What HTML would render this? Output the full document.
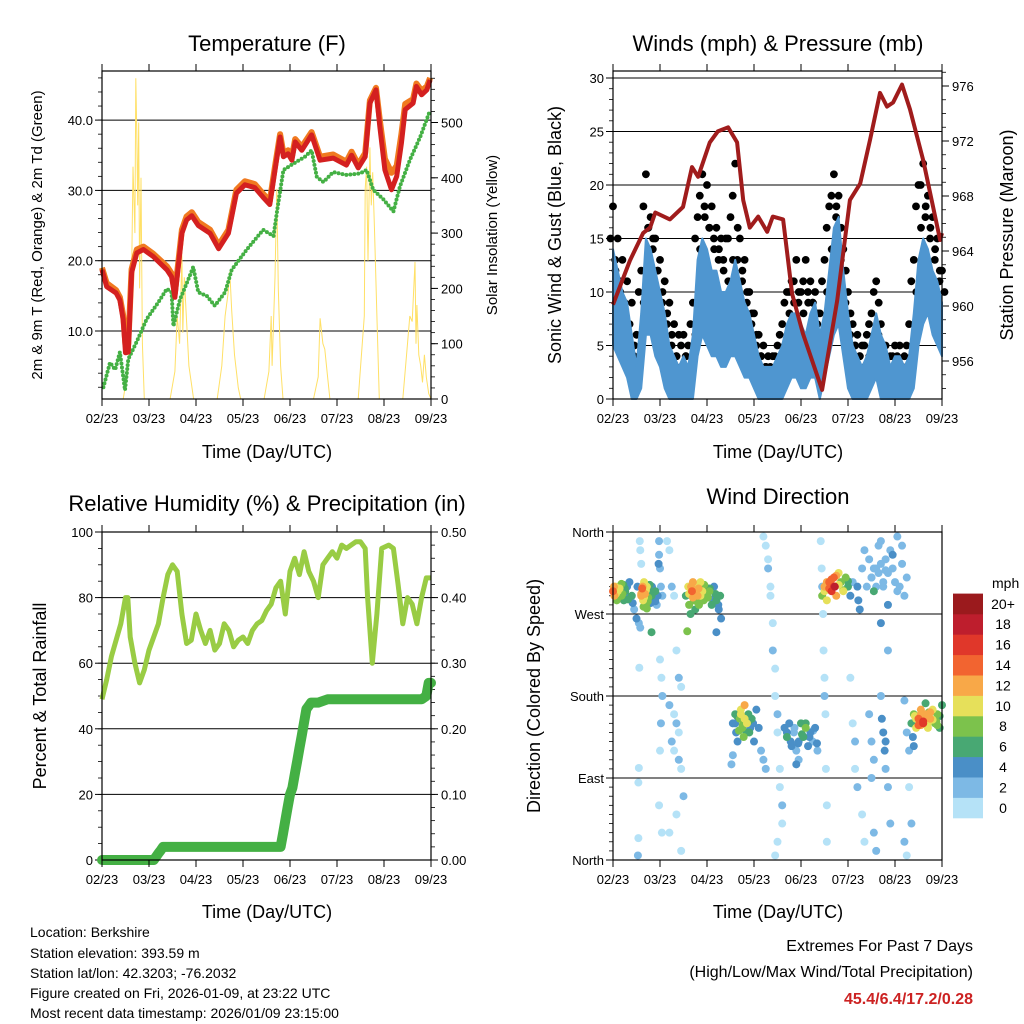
<!DOCTYPE html>
<html><head><meta charset="utf-8"><title>Station Meteogram</title>
<style>
html,body{margin:0;padding:0;background:#fff;}
svg{display:block;font-family:"Liberation Sans",Arial,sans-serif;}
</style></head>
<body>
<svg id="fig" width="1024" height="1024" viewBox="0 0 1024 1024" xmlns="http://www.w3.org/2000/svg">
<rect x="0" y="0" width="1024" height="1024" fill="#fff"/>
<g id="p1">
 <text x="267" y="51" font-size="22" text-anchor="middle">Temperature (F)</text>
 <text transform="translate(42,235) rotate(-90)" font-size="15" text-anchor="middle">2m &amp; 9m T (Red, Orange) &amp; 2m Td (Green)</text>
 <text transform="translate(497,235) rotate(-90)" font-size="15" text-anchor="middle">Solar Insolation (Yellow)</text>
 <text x="267" y="458" font-size="18" text-anchor="middle">Time (Day/UTC)</text>
</g>
<g id="p2">
 <text x="778" y="51" font-size="22" text-anchor="middle">Winds (mph) &amp; Pressure (mb)</text>
 <text transform="translate(561,235) rotate(-90)" font-size="18" text-anchor="middle">Sonic Wind &amp; Gust (Blue, Black)</text>
 <text transform="translate(1013,235) rotate(-90)" font-size="18" text-anchor="middle">Station Pressure (Maroon)</text>
 <text x="778" y="458" font-size="18" text-anchor="middle">Time (Day/UTC)</text>
</g>
<g id="p3">
 <text x="267" y="511" font-size="22" text-anchor="middle">Relative Humidity (%) &amp; Precipitation (in)</text>
 <text transform="translate(46,696) rotate(-90)" font-size="18" text-anchor="middle">Percent &amp; Total Rainfall</text>
 <text x="267" y="918" font-size="18" text-anchor="middle">Time (Day/UTC)</text>
</g>
<g id="p4">
 <text x="778" y="504" font-size="22" text-anchor="middle">Wind Direction</text>
 <text transform="translate(540,696) rotate(-90)" font-size="18" text-anchor="middle">Direction (Colored By Speed)</text>
 <text x="778" y="918" font-size="18" text-anchor="middle">Time (Day/UTC)</text>
 <text x="992" y="588" font-size="14" text-anchor="start">mph</text>
</g>
<g font-size="14">
 <text x="30" y="937">Location: Berkshire</text>
 <text x="30" y="958">Station elevation: 393.59 m</text>
 <text x="30" y="978">Station lat/lon: 42.3203; -76.2032</text>
 <text x="30" y="998">Figure created on Fri, 2026-01-09, at 23:22 UTC</text>
 <text x="30" y="1018">Most recent data timestamp: 2026/01/09 23:15:00</text>
</g>
<g font-size="16" text-anchor="end">
 <text x="973" y="951">Extremes For Past 7 Days</text>
 <text x="973" y="977">(High/Low/Max Wind/Total Precipitation)</text>
 <text x="973" y="1004" font-weight="bold" fill="#cc2222">45.4/6.4/17.2/0.28</text>
</g>
</svg>
<script>
// ---------- data ----------
const xTickLabels = ["02/23","03/23","04/23","05/23","06/23","07/23","08/23","09/23"];

const tempDays = [0,0.1,0.3,0.38,0.45,0.5,0.56,0.63,0.74,0.88,1.09,1.38,1.48,1.55,1.7,1.8,1.91,2.05,2.3,2.48,2.69,2.86,3.04,3.25,3.43,3.57,3.68,3.79,3.86,3.96,4.04,4.11,4.25,4.46,4.64,4.92,5.06,5.2,5.31,5.45,5.6,5.7,5.83,5.91,6.02,6.16,6.27,6.37,6.45,6.62,6.69,6.8,6.91,6.98];
const tempRed = [18.7,16.3,15.4,14.4,11.6,6.9,7.0,18.3,21.1,21.6,20.6,18.7,17.7,14.8,23.9,25.8,26.4,25.0,23.9,21.7,23.9,29.6,30.8,30.4,29.0,28.0,32.9,37.6,34.8,35.2,34.3,36.9,35.7,37.9,34.3,34.6,34.1,33.6,35.0,33.2,34.8,42.4,44.3,39.1,32.9,30.1,32.0,36.7,41.5,42.4,44.8,43.6,44.3,45.7];
const tempOrange = [19.0,16.8,15.8,14.8,12.2,8.0,8.2,18.8,21.6,22.0,21.0,19.2,18.2,15.4,24.4,26.3,26.9,25.5,24.4,22.2,24.4,30.1,31.3,30.9,29.5,28.5,33.4,38.0,35.3,35.7,34.8,37.3,36.2,38.3,34.8,35.1,34.6,34.1,35.5,33.7,35.3,42.8,44.6,40.0,34.5,32.5,33.5,38.0,42.3,43.0,45.2,44.2,44.8,46.0];
const dewDays = [0.03,0.17,0.28,0.38,0.49,0.56,0.74,0.95,1.2,1.38,1.48,1.52,1.66,1.84,1.94,2.05,2.23,2.4,2.62,2.76,3.08,3.43,3.65,3.72,3.86,4.07,4.32,4.46,4.57,4.71,4.92,5.2,5.49,5.63,5.77,5.99,6.2,6.34,6.55,6.77,6.98];
const dewGreen = [2.0,5.5,4.5,7.0,1.6,6.0,8.5,11.7,14.1,16.0,15.5,10.7,14.5,17.4,19.1,15.5,15.0,13.6,15.5,18.7,21.6,24.4,23.5,26.8,32.9,33.8,34.8,35.7,31.9,31.2,32.6,32.2,32.4,32.9,30.1,28.7,27.0,30.6,34.3,37.6,41.4];
const solarDays = [0,0.45,0.55,0.62,0.66,0.7,0.72,0.74,0.76,0.78,0.8,0.83,0.86,0.9,1.45,1.55,1.6,1.65,1.7,1.72,1.75,1.8,1.85,1.95,2.45,2.55,2.62,2.68,2.72,2.76,2.82,2.9,2.95,3.45,3.55,3.6,3.62,3.68,3.72,3.75,3.8,3.85,4.5,4.6,4.64,4.7,4.74,4.8,4.85,5.45,5.58,5.6,5.63,5.66,5.7,5.73,5.76,5.8,5.85,5.9,6.4,6.5,6.55,6.6,6.66,6.68,6.7,6.74,6.78,6.82,6.86,6.9,6.95,7.0];
const solarVals = [0,0,50,150,420,300,580,480,350,500,200,400,100,0,0,50,150,100,260,120,220,140,60,0,0,60,150,190,230,160,80,20,0,0,50,150,60,220,380,200,60,0,0,40,146,100,90,40,0,0,150,380,420,250,455,350,410,300,150,0,0,100,150,140,248,100,170,80,60,30,80,40,10,0];

const windDays = [0,0.1,0.2,0.3,0.4,0.5,0.6,0.7,0.8,0.9,1.0,1.1,1.2,1.3,1.4,1.5,1.6,1.7,1.8,1.9,2.0,2.1,2.2,2.3,2.4,2.5,2.6,2.7,2.8,2.9,3.0,3.1,3.2,3.3,3.4,3.5,3.6,3.7,3.8,3.9,4.0,4.1,4.2,4.3,4.4,4.5,4.6,4.7,4.8,4.9,5.0,5.1,5.2,5.3,5.4,5.5,5.6,5.7,5.8,5.9,6.0,6.1,6.2,6.3,6.4,6.5,6.6,6.7,6.8,6.9,7.0];
const windHi = [14,12,10,9,6,3,8,15,14,12,10,8,5,4,3,4,3,6,13,15,14,12,12,10,10,11,13,11,9,8,6,4,3,3,3,4,5,7,8,8,7,6,8,9,6,8,12,16,17,12,8,5,4,3,4,6,8,6,5,3,4,4,3,4,8,13,15,14,12,11,9];
const windLo = [5,4,3,2,0,0,1,6,6,4,3,1,0,0,0,0,0,0,4,6,5,4,4,3,3,4,4,3,2,2,1,0,0,0,0,0,0,1,2,2,1,1,2,2,0,2,4,6,7,4,1,0,0,0,0,1,2,0,0,0,0,0,0,0,1,5,7,8,6,5,4];
const gustA = [18,15,13,11,9,6,12,21,17,15,13,11,9,7,6,6,5,9,17,21,20,18,16,15,15,17,22,15,13,10,8,6,5,4,4,5,7,10,11,13,10,13,11,10,8,13,18,21,19,14,10,7,6,5,6,8,11,7,5,4,5,5,4,7,13,20,22,19,17,15,12];
const gustB = [12,10,8,7,5,3,9,16,15,12,10,8,6,4,3,4,3,6,14,17,16,14,14,12,11,13,16,12,10,8,6,4,3,2,2,3,5,8,9,10,8,9,9,8,5,10,14,18,16,12,8,5,4,3,4,6,9,5,3,2,3,3,2,4,10,16,18,16,14,12,10];
const gustC = [15,13,11,9,7,4,10,18,16,14,12,9,7,5,4,5,4,7,15,19,18,16,15,13,13,15,19,13,11,9,7,5,4,3,3,4,6,9,10,11,9,11,10,9,7,11,16,19,17,13,9,6,5,4,5,7,10,6,4,3,4,4,3,5,11,18,20,17,15,13,11];
const presDays = [0,0.36,0.64,0.79,0.9,1.21,1.49,1.68,1.81,2.06,2.23,2.45,2.64,2.77,2.91,3.09,3.28,3.4,3.62,3.81,4.04,4.45,4.77,5.04,5.26,5.47,5.68,5.83,5.96,6.15,6.32,6.6,6.96,7.0];
const presVals = [960.1,963.3,965.3,965.7,966.8,966.3,967.2,970.1,969.4,971.9,972.7,973.0,971.9,967.7,965.7,966.5,965.4,966.5,966.3,960.9,958.0,953.9,960.4,967.7,968.9,972.1,975.5,974.5,974.8,976.1,974.3,970.6,964.8,965.3];

const rhDays = [0,0.1,0.2,0.3,0.4,0.5,0.55,0.6,0.7,0.8,0.9,1.0,1.1,1.2,1.3,1.4,1.5,1.6,1.7,1.8,1.9,2.0,2.1,2.2,2.3,2.4,2.5,2.6,2.7,2.8,2.9,3.0,3.1,3.2,3.3,3.4,3.5,3.6,3.7,3.8,3.9,4.0,4.1,4.2,4.3,4.4,4.5,4.6,4.7,4.8,4.9,5.0,5.1,5.2,5.3,5.4,5.5,5.6,5.65,5.75,5.85,5.95,6.1,6.2,6.3,6.4,6.5,6.6,6.7,6.8,6.9,7.0];
const rhVals = [49,55,62,67,72,80,80,68,60,54,58,64,68,72,80,87,90,88,75,66,67,75,70,66,70,64,66,72,70,65,67,68,66,70,72,73,76,78,83,85,75,88,92,87,94,88,85,80,90,92,94,92,96,95,96,97,97,95,80,60,75,95,96,95,84,72,80,78,72,80,86,86];
const precipDays = [0,0.2,0.4,0.6,0.8,1.0,1.1,1.15,1.2,1.25,1.3,1.5,1.8,2.1,2.4,2.7,3.0,3.3,3.6,3.8,3.85,3.9,3.95,4.0,4.05,4.1,4.15,4.2,4.25,4.3,4.35,4.4,4.45,4.6,4.8,5.0,5.3,5.6,5.9,6.2,6.5,6.8,6.9,6.95,7.0];
const precipVals = [0,0,0,0,0,0,0,0.005,0.01,0.015,0.02,0.02,0.02,0.02,0.02,0.02,0.02,0.02,0.02,0.02,0.04,0.06,0.08,0.1,0.11,0.13,0.15,0.17,0.19,0.21,0.23,0.235,0.24,0.24,0.245,0.245,0.245,0.245,0.245,0.245,0.245,0.245,0.25,0.27,0.27];

const dirDays = [0.0,0.03,0.05,0.08,0.1,0.13,0.15,0.18,0.2,0.23,0.25,0.28,0.3,0.35,0.4,0.42,0.45,0.5,0.55,0.58,0.52,0.6,0.62,0.64,0.66,0.68,0.7,0.72,0.75,0.78,0.8,0.83,0.85,0.88,0.9,0.93,0.95,0.82,
0.57,0.58,0.6,0.56,0.55,0.54,0.54,0.53,0.98,0.98,1.0,0.97,1.02,1.05,1.0,1.03,1.05,1.02,1.0,0.98,1.04,
1.15,1.2,1.25,1.3,1.35,1.4,1.45,1.2,1.3,1.35,1.4,1.25,1.3,1.4,1.45,1.5,1.35,1.2,1.45,
1.55,1.6,1.62,1.65,1.68,1.7,1.72,1.75,1.78,1.8,1.83,1.86,1.9,1.93,1.96,2.0,2.05,2.1,2.15,2.2,2.25,2.3,2.28,1.58,2.2,
3.2,3.25,3.3,3.3,3.35,3.35,3.4,3.4,3.45,3.45,3.5,3.5,3.55,3.55,3.6,3.6,3.5,3.45,
2.55,2.6,2.62,2.65,2.7,2.72,2.75,2.78,2.8,2.85,2.88,2.9,2.95,3.0,3.05,3.1,3.15,3.2,3.25,2.55,2.52,
3.65,3.7,3.75,3.8,3.85,3.9,3.95,4.0,4.05,4.1,4.15,4.2,4.25,4.3,4.35,3.9,3.95,
4.42,4.44,4.45,4.47,4.48,4.5,4.5,4.52,4.53,4.55,4.55,
4.45,4.5,4.55,4.6,4.65,4.7,4.72,4.75,4.8,4.85,4.9,4.95,5.0,5.05,5.1,
5.2,5.22,5.25,5.3,5.35,5.4,5.45,5.5,5.55,5.6,5.65,5.7,5.75,5.8,5.85,5.9,5.95,6.0,6.05,6.1,6.15,6.2,6.25,5.7,5.85,5.95,6.05,6.15,
5.05,5.1,5.15,5.15,5.2,5.3,5.35,5.45,5.5,5.55,5.5,5.55,5.6,5.7,5.72,5.75,5.8,5.78,5.8,5.85,5.9,5.85,6.2,6.25,6.3,6.3,6.35,6.2,6.25,
6.35,6.4,6.45,6.5,6.55,6.6,6.65,6.7,6.75,6.8,6.85,6.9,6.95,7.0,6.38,6.4,6.65,6.42,6.55,6.72,6.88];
const dirDeg = [295,290,300,285,295,300,288,303,292,285,298,290,300,305,290,282,275,265,260,255,300,290,298,285,305,292,280,300,288,295,282,300,290,285,295,280,290,250,
350,340,325,211,101,85,24,5,350,335,320,325,300,290,220,200,180,150,120,60,30,
350,340,300,290,230,200,190,170,160,150,140,130,120,110,100,70,50,30,10,
290,300,280,270,295,305,285,275,300,290,280,305,295,285,300,290,295,280,300,285,275,265,290,251,250,
355,345,330,320,300,290,260,230,210,180,160,140,100,80,60,40,20,5,
150,160,140,130,155,165,145,135,170,150,160,140,155,130,165,145,120,110,100,115,105,
145,135,150,125,140,120,130,150,135,145,125,140,130,145,120,105,110,
350,320,300,270,230,200,180,160,100,60,20,
290,300,285,305,295,310,300,290,315,305,295,310,300,290,305,
300,285,275,320,340,300,330,310,295,320,345,350,300,330,315,340,320,305,355,300,325,290,310,260,280,335,295,345,
200,150,130,100,80,50,20,160,130,110,90,30,10,180,155,140,130,120,100,80,40,230,175,140,120,80,40,20,5,
150,160,145,155,165,150,160,145,155,165,150,160,145,170,135,125,172,158,148,162,152];
const dirSpeed = [14,12,10,8,10,8,6,8,9,7,6,5,4,4,6,5,3,4,3,3,4,12,14,10,11,12,9,10,8,6,5,4,5,4,6,3,4,6,
1,1,1,1,1,1,1,2,3,3,3,4,2,2,1,1,2,2,1,1,1,
1,1,2,1,1,2,1,3,1,2,1,2,1,3,1,2,1,1,1,
6,10,8,7,14,12,9,6,10,12,8,11,10,8,7,9,8,6,5,6,4,5,7,8,4,
1,1,1,2,1,1,1,2,1,1,2,1,1,1,2,1,1,1,
4,6,4,5,8,10,9,8,12,10,7,6,6,4,5,4,3,2,2,3,2,
4,6,4,5,3,3,4,7,6,8,4,5,3,4,3,4,3,
1,1,2,1,1,1,2,1,1,1,1,
8,12,10,14,16,15,18,12,10,8,10,8,6,4,3,
4,4,4,2,2,3,2,3,6,2,2,3,2,3,2,2,3,2,2,3,2,2,3,4,4,5,3,2,
1,1,2,1,2,1,1,2,3,2,2,2,2,3,4,4,5,4,3,3,2,3,2,3,3,1,2,3,1,
6,8,10,14,12,16,12,10,12,10,8,9,7,6,4,4,6,11,13,9,8];
const dirDays2 = [0.02,0.06,0.1,0.14,0.18,0.22,0.26,0.32,0.6,0.63,0.66,0.7,0.74,0.78,0.82,0.86,0.9,0.65,0.72,
1.62,1.66,1.7,1.74,1.78,1.82,1.86,1.9,1.94,1.98,2.02,2.06,2.12,2.18,2.24,
2.6,2.64,2.68,2.72,2.76,2.8,2.84,2.88,2.92,2.98,
3.7,3.78,3.86,3.94,4.02,4.1,4.18,4.26,4.34,
4.5,4.55,4.6,4.65,4.7,4.75,4.8,4.9,5.0,
5.5,5.55,5.6,5.65,5.7,5.75,5.8,
6.45,6.5,6.55,6.6,6.65,6.7,6.75,6.8,6.9,6.95];
const dirDeg2 = [300,292,288,298,290,302,295,286,292,300,288,296,284,302,290,296,284,278,276,
292,300,288,296,284,298,290,286,302,292,288,298,286,292,280,
150,158,142,160,148,155,140,152,145,150,
140,130,145,128,138,150,135,142,128,
295,305,298,308,300,312,302,296,306,
310,320,300,315,325,305,318,
155,148,160,152,158,150,162,154,148,158];
const dirSpeed2 = [12,10,9,11,8,7,6,6,13,12,11,10,9,7,6,5,4,8,9,
10,12,13,11,9,12,10,9,8,7,8,6,5,6,4,
5,7,9,11,8,10,6,7,5,4,
4,5,3,4,6,7,5,3,4,
10,13,15,14,17,13,11,9,7,
3,2,3,2,3,2,3,
11,14,13,16,12,11,13,10,8,7];

const cbLabels = ["0","2","4","6","8","10","12","14","16","18","20+"];
const cbColors = ["#b5e2f7","#7db9e5","#4a8fc7","#48a873","#7cc24c","#e6e05a","#f8a848","#f26430","#e0372a","#be1e2d","#9b1a1d"];

// ---------- helpers ----------
const NS = "http://www.w3.org/2000/svg";
const svg = document.getElementById("fig");
function el(tag, attrs, parent) {
  const e = document.createElementNS(NS, tag);
  for (const k in attrs) e.setAttribute(k, attrs[k]);
  (parent || svg).appendChild(e);
  return e;
}
function txt(parent, x, y, s, size, anchor) {
  const t = el("text", {x: x, y: y, "font-size": size, "text-anchor": anchor}, parent);
  t.textContent = s;
  return t;
}
const PW = 329, DAYPX = 47;
function xScale(x0) { return d => x0 + d * DAYPX; }
function linScale(v0, y0, v1, y1) { return v => y0 + (v - v0) * (y1 - y0) / (v1 - v0); }
function pts(days, vals, xs, ys) { return days.map((d, i) => xs(d).toFixed(1) + "," + ys(vals[i]).toFixed(1)).join(" "); }

function frame(g, x0, y0, y1) {
  for (let i = 0; i < xTickLabels.length; i++) {
    const x = x0 + i * DAYPX;
    const tb = el("line", {x1: x, y1: y1, x2: x, y2: y1 + 7, stroke: "#000", "stroke-width": 1}, g);
    
    
    const tt = el("line", {x1: x, y1: y0, x2: x, y2: y0 - 7, stroke: "#000", "stroke-width": 1}, g);
    
    
    const lb = txt(g, x, y1 + 24, xTickLabels[i], 13, "middle");
    
    
  }
}
function box(g, x0, y0, y1) {
  const r = el("rect", {x: x0, y: y0, width: PW, height: y1 - y0, fill: "none", stroke: "#000", "stroke-width": 1.2}, g);
  
  
}
function yAxis(g, ys, vals, labels, xEdge, side, gridX0, grid) {
  vals.forEach((v, i) => {
    const y = ys(v);
    if (grid) {
      const gl = el("line", {x1: gridX0, y1: y, x2: gridX0 + PW, y2: y, stroke: "#000", "stroke-width": 1}, g);
      
      
    }
    const dx = side === "left" ? -7 : 7;
    const tk = el("line", {x1: xEdge, y1: y, x2: xEdge + dx, y2: y, stroke: "#000", "stroke-width": 1}, g);
    
    
    const lb = txt(g, side === "left" ? xEdge - 9 : xEdge + 10, y + 5, labels[i], 13, side === "left" ? "end" : "start");
    
    
  });
}
function minor(g, ys, from, to, step, xEdge, side) {
  for (let v = from; v <= to + 1e-9; v += step) {
    const dx = side === "left" ? -4 : 4;
    const tk = el("line", {x1: xEdge, y1: ys(v), x2: xEdge + dx, y2: ys(v), stroke: "#000", "stroke-width": 0.8}, g);
    
    
  }
}

// ---------- Panel 1: temperature ----------
(function () {
  const g = document.getElementById("p1");
  const X0 = 102, Y0 = 71, Y1 = 399;
  const xs = xScale(X0);
  const ysT = linScale(0, 401.3, 10, 331);
  const ysS = linScale(0, 399, 100, 343.7);
  yAxis(g, ysT, [10, 20, 30, 40], ["10.0", "20.0", "30.0", "40.0"], X0, "left", X0, true);
  minor(g, ysT, 2, 46, 2, X0, "left");
  yAxis(g, ysS, [0, 100, 200, 300, 400, 500], ["0", "100", "200", "300", "400", "500"], X0 + PW, "right", X0, false);
  minor(g, ysS, 20, 580, 20, X0 + PW, "right");
  const sol = el("polyline", {points: pts(solarDays, solarVals, xs, ysS), fill: "none", stroke: "#ffe066", "stroke-width": 1}, g);
  
  
  const dew = el("polyline", {points: pts(dewDays, dewGreen, xs, ysT), fill: "none", stroke: "#44b044", "stroke-width": 4, "stroke-dasharray": "0 4", "stroke-linecap": "round", "stroke-linejoin": "round"}, g);
  
  
  const or = el("polyline", {points: pts(tempDays, tempOrange, xs, ysT), fill: "none", stroke: "#f07a20", "stroke-width": 6, "stroke-linejoin": "round"}, g);
  
  
  const rd = el("polyline", {points: pts(tempDays, tempRed, xs, ysT), fill: "none", stroke: "#d42020", "stroke-width": 5, "stroke-linejoin": "round"}, g);
  
  
  box(g, X0, Y0, Y1);
  frame(g, X0, Y0, Y1);
})();

// ---------- Panel 2: winds ----------
(function () {
  const g = document.getElementById("p2");
  const X0 = 613, Y0 = 71, Y1 = 399;
  const xs = xScale(X0);
  const ysW = linScale(0, 399, 30, 78);
  const ysP = linScale(956, 361, 976, 86);
  yAxis(g, ysW, [0, 5, 10, 15, 20, 25, 30], ["0", "5", "10", "15", "20", "25", "30"], X0, "left", X0, true);
  minor(g, ysW, 1, 30, 1, X0, "left");
  yAxis(g, ysP, [956, 960, 964, 968, 972, 976], ["956", "960", "964", "968", "972", "976"], X0 + PW, "right", X0, false);
  minor(g, ysP, 954, 977, 1, X0 + PW, "right");
  const gg = el("g", {fill: "#000"}, g);
  
  
  windDays.forEach((d, i) => {
    const c1 = el("circle", {cx: xs(d), cy: ysW(gustA[i]), r: 3.9}, gg);
    
    
    const c2 = el("circle", {cx: xs(d) + 2.5, cy: ysW(gustB[i]), r: 3.9}, gg);
    
    
    const c3 = el("circle", {cx: xs(d) - 2.5, cy: ysW(gustC[i]), r: 3.9}, gg);
    
    
  });
  const top = windDays.map((d, i) => xs(d).toFixed(1) + "," + ysW(windHi[i]).toFixed(1));
  const bot = windDays.map((d, i) => xs(d).toFixed(1) + "," + ysW(windLo[i]).toFixed(1)).reverse();
  const band = el("polygon", {points: top.concat(bot).join(" "), fill: "#4f96d0", stroke: "#4f96d0", "stroke-width": 2, "stroke-linejoin": "round"}, g);
  
  
  const pr = el("polyline", {points: pts(presDays, presVals, xs, ysP), fill: "none", stroke: "#a01c1c", "stroke-width": 4, "stroke-linejoin": "round"}, g);
  
  
  box(g, X0, Y0, Y1);
  frame(g, X0, Y0, Y1);
})();

// ---------- Panel 3: humidity & precipitation ----------
(function () {
  const g = document.getElementById("p3");
  const X0 = 102, Y0 = 532, Y1 = 860;
  const xs = xScale(X0);
  const ysR = linScale(0, 860, 100, 532);
  const ysP = linScale(0, 860, 0.5, 532);
  yAxis(g, ysR, [0, 20, 40, 60, 80, 100], ["0", "20", "40", "60", "80", "100"], X0, "left", X0, true);
  minor(g, ysR, 5, 100, 5, X0, "left");
  yAxis(g, ysP, [0, 0.1, 0.2, 0.3, 0.4, 0.5], ["0.00", "0.10", "0.20", "0.30", "0.40", "0.50"], X0 + PW, "right", X0, false);
  minor(g, ysP, 0.02, 0.5, 0.02, X0 + PW, "right");
  const rh = el("polyline", {points: pts(rhDays, rhVals, xs, ysR), fill: "none", stroke: "#99cc44", "stroke-width": 5, "stroke-linejoin": "round"}, g);
  
  
  const pc = el("polyline", {points: pts(precipDays, precipVals, xs, ysP), fill: "none", stroke: "#44b044", "stroke-width": 10, "stroke-linejoin": "round", "stroke-linecap": "round"}, g);
  
  
  box(g, X0, Y0, Y1);
  frame(g, X0, Y0, Y1);
})();

// ---------- Panel 4: wind direction ----------
(function () {
  const g = document.getElementById("p4");
  const X0 = 613, Y0 = 532, Y1 = 860;
  const xs = xScale(X0);
  const ysD = linScale(0, 860, 360, 532);
  yAxis(g, ysD, [0, 90, 180, 270, 360], ["North", "East", "South", "West", "North"], X0, "left", X0, true);
  minor(g, ysD, 10, 360, 10, X0, "left");
  function colorFor(s) { let k = Math.floor(s / 2); if (k > 10) k = 10; if (k < 0) k = 0; return cbColors[k]; }
  const recs = [];
  const n1 = Math.min(dirDays.length, dirDeg.length, dirSpeed.length);
  for (let i = 0; i < n1; i++) recs.push([dirDays[i], dirDeg[i], dirSpeed[i]]);
  const n2 = Math.min(dirDays2.length, dirDeg2.length, dirSpeed2.length);
  for (let i = 0; i < n2; i++) recs.push([dirDays2[i], dirDeg2[i], dirSpeed2[i]]);
  recs.sort((a, b) => a[2] - b[2]);
  const sg = el("g", {}, g);
  
  
  recs.forEach(r => {
    const c = el("circle", {cx: xs(r[0]), cy: ysD(r[1]), r: 4, fill: colorFor(r[2])}, sg);
    
    
  });
  box(g, X0, Y0, Y1);
  frame(g, X0, Y0, Y1);
  const cb = el("g", {}, g);
  
  
  const h = 20.4;
  cbColors.forEach((col, i) => {
    const y = 818 - (i + 1) * h;
    const r = el("rect", {x: 953, y: y.toFixed(1), width: 30, height: h + 0.3, fill: col}, cb);
    
    
    const t = txt(cb, 1003, y + h / 2 + 5, cbLabels[i], 14, "middle");
    
    
  });
})();
</script>
</body></html>
